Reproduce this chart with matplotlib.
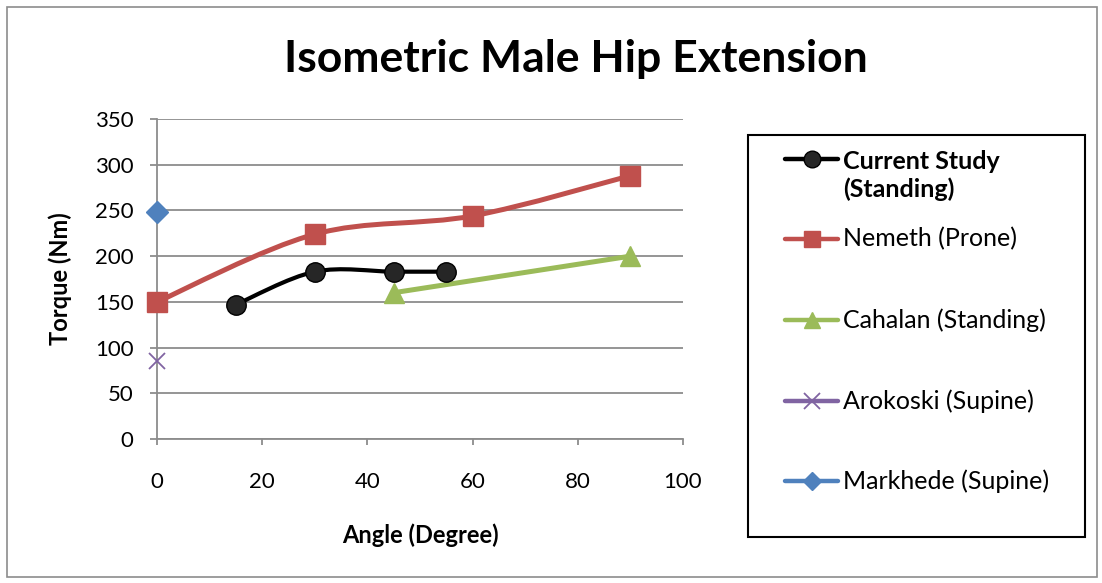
import matplotlib
matplotlib.use("Agg")
import matplotlib.pyplot as plt
from matplotlib.path import Path
from matplotlib.patches import PathPatch, Rectangle
from matplotlib.lines import Line2D

plt.rcParams['font.family'] = ['Lato', 'DejaVu Sans']

# data
current_x = [15, 30, 45, 55]
current_y = [147, 183, 183, 183]
nemeth_x = [0, 30, 60, 90]
nemeth_y = [150, 224, 244, 288]
cahalan_x = [45, 90]
cahalan_y = [160, 200]
arokoski_x = [0]
arokoski_y = [85]
markhede_x = [0]
markhede_y = [248]

labels = ["Current Study\n(Standing)", "Nemeth (Prone)", "Cahalan (Standing)",
          "Arokoski (Supine)", "Markhede (Supine)"]

GRID = "#8C8C8C"
W, H = 1102, 583


def smooth_path(xs, ys):
    # Excel-like smoothed line (catmull-rom as cubic bezier)
    pts = list(zip(xs, ys))
    verts = [pts[0]]
    codes = [Path.MOVETO]
    n = len(pts)
    for i in range(n - 1):
        p0 = pts[i - 1] if i > 0 else pts[i]
        p1 = pts[i]
        p2 = pts[i + 1]
        p3 = pts[i + 2] if i + 2 < n else pts[i + 1]
        c1 = (p1[0] + (p2[0] - p0[0]) / 6, p1[1] + (p2[1] - p0[1]) / 6)
        c2 = (p2[0] - (p3[0] - p1[0]) / 6, p2[1] - (p3[1] - p1[1]) / 6)
        verts += [c1, c2, p2]
        codes += [Path.CURVE4] * 3
    return Path(verts, codes)


fig = plt.figure(figsize=(W / 100, H / 100), dpi=100)
ax = fig.add_axes([157 / W, 1 - 439 / H, (683 - 157) / W, (439 - 119) / H])

ax.add_patch(PathPatch(smooth_path(nemeth_x, nemeth_y), fill=False,
                       edgecolor="#C0504D", lw=3.6, capstyle="round", zorder=3))
ax.add_patch(PathPatch(smooth_path(current_x, current_y), fill=False,
                       edgecolor="black", lw=3.0, capstyle="round", zorder=4))
ax.plot(cahalan_x, cahalan_y, color="#9BBB59", lw=3.6, zorder=3)

ax.plot(nemeth_x, nemeth_y, ls="none", marker="s", ms=14, color="#C0504D", zorder=5,
        clip_on=False)
ax.plot(current_x, current_y, ls="none", marker="o", ms=14, mfc="#262626",
        mec="black", mew=1.0, zorder=6)
ax.plot(cahalan_x, cahalan_y, ls="none", marker="^", ms=15, color="#9BBB59", zorder=5)
ax.plot(arokoski_x, arokoski_y, ls="none", marker="x", ms=12, mew=1.3,
        color="#8064A2", zorder=5, clip_on=False)
ax.plot(markhede_x, markhede_y, ls="none", marker="D", ms=11, color="#4F81BD",
        zorder=5, clip_on=False)

ax.set_xlim(0, 100)
ax.set_ylim(0, 350)
ax.set_xticks(range(0, 101, 20))
ax.set_yticks(range(0, 351, 50))
ax.grid(axis="y", color=GRID, lw=1.3)
ax.set_axisbelow(True)
for s in ["top", "right"]:
    ax.spines[s].set_visible(False)
for s in ["left", "bottom"]:
    ax.spines[s].set_color(GRID)
    ax.spines[s].set_linewidth(1.3)
ax.tick_params(axis="y", length=5, width=1.3, color=GRID, labelsize=16, pad=12)
ax.tick_params(axis="x", length=4, width=1.3, color=GRID, labelsize=16, pad=20)

ax.set_xlabel("Angle (Degree)", fontsize=17, fontweight="bold", va="center")
ax.set_ylabel("Torque (Nm)", fontsize=17, fontweight="bold", va="center")
ax.xaxis.set_label_coords((420 - 157) / 526, (439 - 535) / 320)
ax.yaxis.set_label_coords((60 - 157) / 526, (439 - 279) / 320)

fig.text(576 / W, 1 - 59 / H, "Isometric Male Hip Extension", fontsize=32,
         fontweight="bold", ha="center", va="center")

# outer chart border
fig.add_artist(Rectangle((7 / W, 1 - 577 / H), (1097 - 7) / W, (577 - 7) / H,
                         transform=fig.transFigure, fill=False, edgecolor=GRID, lw=1.2))

# legend box
fig.add_artist(Rectangle((748 / W, 1 - 537 / H), (1085 - 748) / W, (537 - 135) / H,
                         transform=fig.transFigure, fill=False, edgecolor="black", lw=1.5))
line_colors = ["black", "#C0504D", "#9BBB59", "#8064A2", "#4F81BD"]
markers = [
    dict(marker="o", mfc="#262626", mec="black", ms=12),
    dict(marker="s", mfc="#C0504D", mec="#C0504D", ms=12),
    dict(marker="^", mfc="#9BBB59", mec="#9BBB59", ms=12),
    dict(marker="x", mfc="#8064A2", mec="#8064A2", ms=11, mew=1.3),
    dict(marker="D", mfc="#4F81BD", mec="#4F81BD", ms=9),
]
ys = [159, 239, 320, 401, 481]
for lab, c, m, yy in zip(labels, line_colors, markers, ys):
    fy = 1 - yy / H
    fig.add_artist(Line2D([785 / W, 838 / W], [fy, fy], transform=fig.transFigure,
                          lw=3.2, color=c, solid_capstyle="round"))
    fig.add_artist(Line2D([811.5 / W], [fy], transform=fig.transFigure, ls="none", **m))
    if lab.startswith("Current"):
        fig.text(843 / W, 1 - 175.5 / H, lab, fontsize=18, fontweight="bold",
                 ha="left", va="center", linespacing=1.25)
    else:
        fig.text(843 / W, fy, lab, fontsize=18, ha="left", va="center")

fig.savefig("out.png", dpi=100)
